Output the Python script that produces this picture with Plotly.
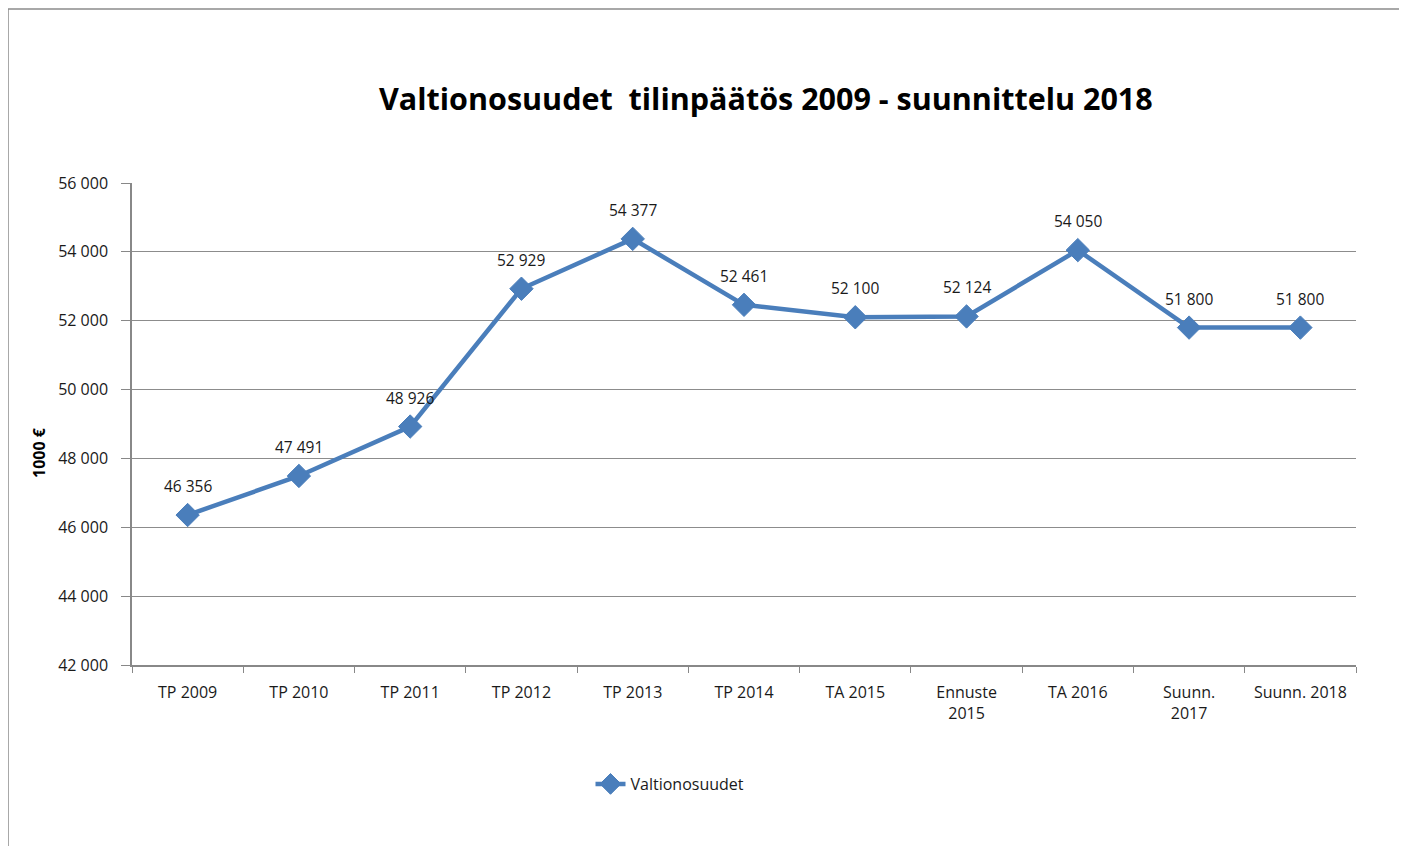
import plotly.graph_objects as go

categories = ["TP 2009", "TP 2010", "TP 2011", "TP 2012", "TP 2013", "TP 2014",
              "TA 2015", "Ennuste<br>2015", "TA 2016", "Suunn.<br>2017", "Suunn. 2018"]
values = [46356, 47491, 48926, 52929, 54377, 52461, 52100, 52124, 54050, 51800, 51800]
labels = ["46 356", "47 491", "48 926", "52 929", "54 377", "52 461",
          "52 100", "52 124", "54 050", "51 800", "51 800"]

FONT = "Open Sans, Lato, sans-serif"
BLUE = "#4A7EBB"
TXT = "#1a1a1a"

OFF = 8  # browser body margin
L, R, T, B = 132 - OFF, 1356 - OFF, 183 - OFF, 665 - OFF
W, H = 1407, 846
pw, ph = R - L, B - T

def px(x):
    return (x - OFF - L) / pw

def py(y):
    return (B - (y - OFF)) / ph

fig = go.Figure()
fig.add_trace(go.Scatter(
    x=categories, y=values, name="Valtionosuudet",
    mode="lines+markers",
    line=dict(color=BLUE, width=4.5),
    marker=dict(symbol="diamond", size=18, color=BLUE, line=dict(color=BLUE, width=1)),
    cliponaxis=False,
))

annotations = [
    dict(x=c, y=v, text=t, xref="x", yref="y", showarrow=False, yshift=29,
         xanchor="center", yanchor="middle", font=dict(family=FONT, size=15.5, color=TXT))
    for c, v, t in zip(categories, values, labels)
]
annotations += [
    dict(text="<b>Valtionosuudet  tilinpäätös 2009 - suunnittelu 2018</b>",
         xref="paper", yref="paper", x=px(766), y=py(98), xanchor="center", yanchor="middle",
         showarrow=False, font=dict(family=FONT, size=30.5, color="#000000")),
    dict(text="<b>1000 €</b>", xref="paper", yref="paper", x=px(39), y=py(453),
         xanchor="center", yanchor="middle", textangle=-90, showarrow=False,
         font=dict(family=FONT, size=16, color="#000000")),
]

fig.update_layout(
    width=W, height=H,
    margin=dict(l=L, r=W - R, t=T, b=H - B),
    paper_bgcolor="white", plot_bgcolor="white",
    separators=", ",
    font=dict(family=FONT, size=16, color=TXT),
    showlegend=True,
    legend=dict(orientation="h", x=px(670), y=py(784), xanchor="center", yanchor="middle",
                font=dict(family=FONT, size=16, color=TXT)),
    xaxis=dict(type="category", tickson="boundaries", ticks="outside", ticklen=6,
               tickcolor="#888888", showline=True, linecolor="#888888", linewidth=1.5,
               showgrid=False, tickfont=dict(family=FONT, size=16, color=TXT),
               ticklabelstandoff=12, range=[-0.5, 10.5]),
    yaxis=dict(range=[42000, 56000], dtick=2000, tickformat=",d", ticks="outside",
               ticklen=9, tickcolor="#888888", showline=True, linecolor="#888888",
               linewidth=1.5, showgrid=True, gridcolor="#8c8c8c", gridwidth=1,
               zeroline=False, tickfont=dict(family=FONT, size=16, color=TXT),
               ticklabelstandoff=10),
    annotations=annotations,
    shapes=[
        dict(type="rect", xref="paper", yref="paper", x0=px(8), x1=px(1402), y0=py(9), y1=py(900),
             line=dict(color="#8c8c8c", width=1.5), fillcolor="rgba(0,0,0,0)", layer="below"),
    ],
)

fig.write_html("out.html")
